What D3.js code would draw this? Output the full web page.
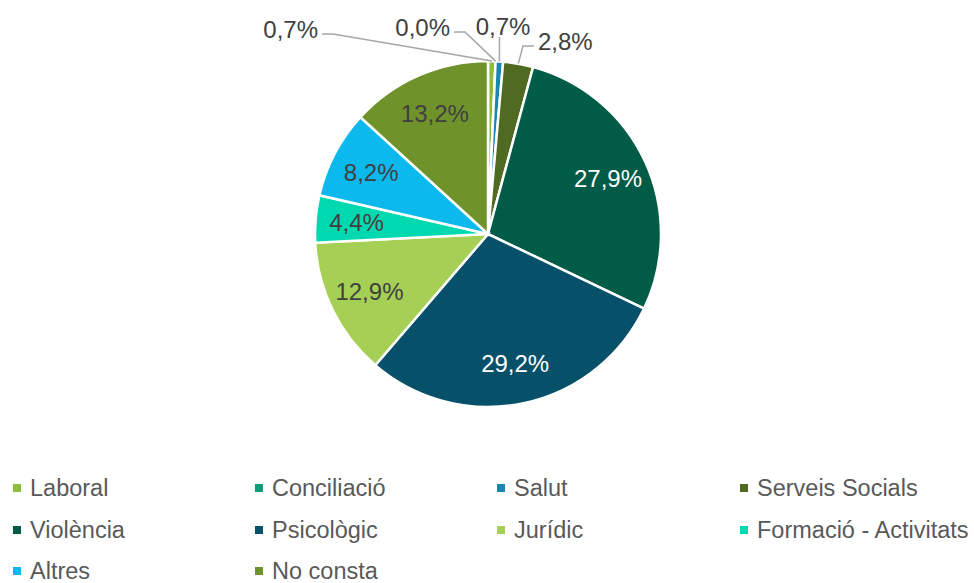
<!DOCTYPE html>
<meta charset="utf-8">
<script src="https://d3js.org/d3.v7.min.js"></script>
<style>
  body { margin: 0; background: #fff; }
  text { font-family: "Liberation Sans", Arial, sans-serif; }
</style>
<body>
<svg id="chart" width="974" height="583"></svg>
<script>
// data
const categories = ["Laboral", "Conciliació", "Salut", "Serveis Socials", "Violència",
                    "Psicològic", "Jurídic", "Formació - Activitats", "Altres", "No consta"];
const values = [0.7, 0.0, 0.7, 2.8, 27.9, 29.2, 12.9, 4.4, 8.2, 13.2];
const colors = ["#8fbc3c", "#0f9a7c", "#1a86b4", "#4f6b22", "#005b47",
                "#07506a", "#a5cf55", "#00d9b0", "#0cb9ec", "#6f932a"];

const svg = d3.select("#chart");
const cx = 488, cy = 234, r = 173, labelR = 132;

const pie = d3.pie().sort(null).value(d => d.value);
const arcs = pie(categories.map((c, i) => ({name: c, value: values[i], color: colors[i]})));
const arc = d3.arc().innerRadius(0).outerRadius(r);
const labelArc = d3.arc().innerRadius(labelR).outerRadius(labelR);
const edgeArc = d3.arc().innerRadius(r).outerRadius(r);

const g = svg.append("g").attr("transform", `translate(${cx},${cy})`);

g.selectAll("path.slice")
  .data(arcs)
  .join("path")
    .attr("class", "slice")
    .attr("d", arc)
    .attr("fill", d => d.data.color)
    .attr("stroke", "#fff")
    .attr("stroke-width", 2.5);

const fmt = v => v.toFixed(1).replace(".", ",") + "%";
const darkSlices = ["Violència", "Psicològic"];

// inside labels for the bigger slices
g.selectAll("text.inlabel")
  .data(arcs.filter(d => d.data.value >= 4))
  .join("text")
    .attr("class", "inlabel")
    .attr("transform", d => `translate(${labelArc.centroid(d)})`)
    .attr("text-anchor", "middle")
    .attr("dy", "0.35em")
    .attr("font-size", 24)
    .attr("fill", d => darkSlices.includes(d.data.name) ? "#fff" : "#404040")
    .text(d => fmt(d.data.value));

// callouts for the small ones (placement relative to pie centre)
const callout = {
  "Laboral":         {x: -170, y: -204, anchor: "end",    side: 1},
  "Conciliació":     {x: -38,  y: -206, anchor: "end",    side: 1},
  "Salut":           {x: 15,   y: -207, anchor: "middle", side: 0},
  "Serveis Socials": {x: 50,   y: -192, anchor: "start",  side: -1}
};
const small = arcs.filter(d => d.data.value < 4);

g.selectAll("path.leader")
  .data(small)
  .join("path")
    .attr("class", "leader")
    .attr("fill", "none")
    .attr("stroke", "#a6a6a6")
    .attr("stroke-width", 1.5)
    .attr("d", d => {
      const c = callout[d.data.name];
      const e = edgeArc.centroid(d);
      if (c.side === 0) return `M${e[0]},${c.y + 10}L${e[0]},${e[1]}`;
      const x0 = c.x + c.side * 4, x1 = x0 + c.side * 11, y0 = c.y + 4;
      return `M${x0},${y0}L${x1},${y0}L${e[0]},${e[1]}`;
    });

g.selectAll("text.outlabel")
  .data(small)
  .join("text")
    .attr("class", "outlabel")
    .attr("x", d => callout[d.data.name].x)
    .attr("y", d => callout[d.data.name].y)
    .attr("text-anchor", d => callout[d.data.name].anchor)
    .attr("dy", "0.35em")
    .attr("font-size", 24)
    .attr("fill", "#404040")
    .text(d => fmt(d.data.value));

// legend
const colX = [13, 255, 497, 740], rowY = [488, 530, 571];
const legend = svg.append("g")
  .selectAll("g")
  .data(categories)
  .join("g")
    .attr("transform", (d, i) => `translate(${colX[i % 4]},${rowY[Math.floor(i / 4)]})`);

legend.append("rect")
  .attr("x", 0).attr("y", -4)
  .attr("width", 8).attr("height", 8)
  .attr("fill", (d, i) => colors[i]);

legend.append("text")
  .attr("x", 17)
  .attr("dy", "0.35em")
  .attr("font-size", 23.5)
  .attr("fill", "#595959")
  .text(d => d);
</script>
</body>
